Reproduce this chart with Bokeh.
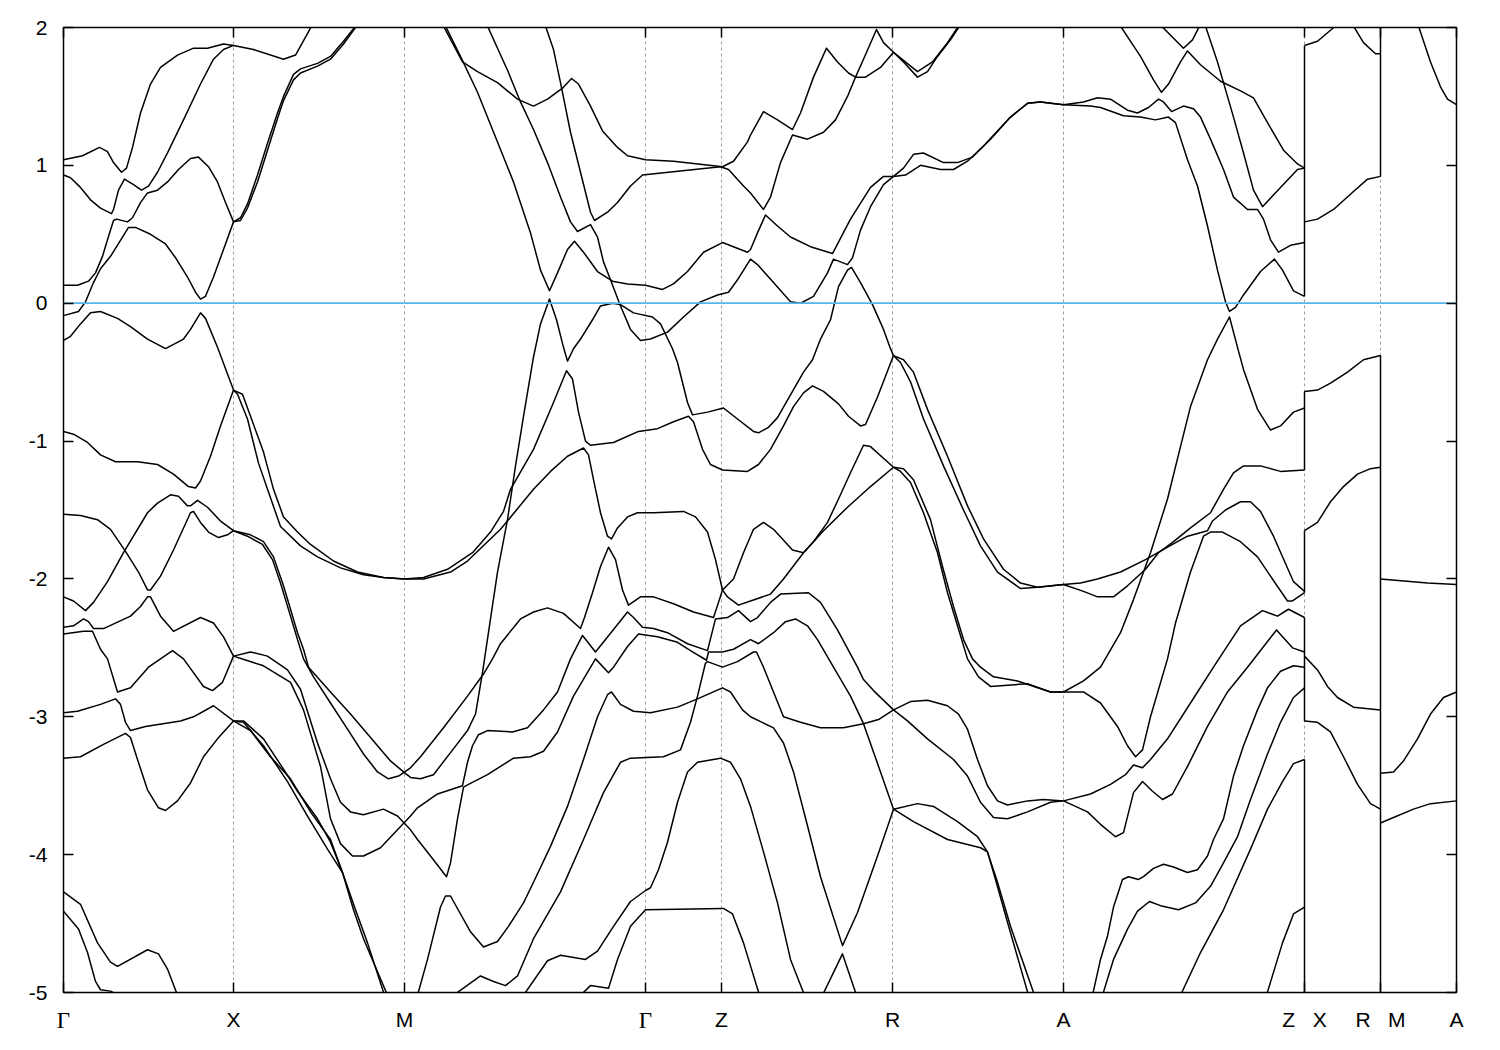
from bokeh.plotting import figure
from bokeh.models import FixedTicker, Range1d, LinearAxis
from bokeh.embed import file_html
from bokeh.resources import INLINE

# position along the k path of each high-symmetry tick
K_TICKS = [63, 233, 404, 645, 721, 892, 1063, 1304, 1380, 1456]
K_LABELS = ["Γ", "X", "M", "Γ", "Z", "R", "A", "Z\u00a0\u00a0\u00a0X", "R\u00a0\u00a0\u00a0M", "A"]
E_TICKS = [2, 1, 0, -1, -2, -3, -4, -5]
FERMI = 0.0

# bands: (k position, energy in eV)
B01 = [(63,1.04),(82,1.07),(99,1.13),(107,1.10),(113,1.02),(121,.95),(126,.98),(132,1.13),(140,1.38),(150,1.59),(160,1.71),(177,1.80),(193,1.85),(207,1.85),(223,1.88),(233,1.87),(253,1.84),(270,1.80),(283,1.77),(295,1.80),(302,1.89),(311,2.01)]
B02 = [(63,.93),(70,.91),(80,.84),(90,.75),(100,.69),(111,.65),(113,.68),(118,.82),(124,.90),(133,.86),(141,.82),(148,.85),(157,.95),(167,1.09),(183,1.33),(200,1.59),(213,1.77),(223,1.84),(233,1.87)]
B03 = [(63,.13),(77,.13),(88,.16),(95,.22),(102,.34),(107,.46),(113,.60),(116,.61),(127,.59),(132,.62),(140,.73),(147,.80),(157,.82),(167,.88),(178,.97),(190,1.05),(198,1.06),(208,.99),(217,.88),(225,.73),(233,.59)]
B04 = [(63,-.09),(78,-.06),(85,.01),(93,.15),(100,.25),(110,.34),(122,.48),(128,.55),(135,.55),(150,.50),(165,.43),(175,.33),(187,.19),(195,.08),(200,.03),(205,.05),(213,.19),(223,.39),(233,.59)]
B05 = [(233,.59),(240,.62),(247,.72),(257,.93),(267,1.16),(277,1.38),(283,1.50),(293,1.66),(300,1.70),(317,1.74),(330,1.79),(343,1.90),(355,2.01)]
B06 = [(233,.59),(240,.60),(247,.69),(257,.88),(267,1.11),(277,1.34),(283,1.47),(293,1.62),(300,1.67),(317,1.72),(330,1.77),(343,1.88),(356,2.01)]
B07 = [(63,-.27),(70,-.24),(80,-.15),(90,-.07),(100,-.06),(117,-.11),(130,-.17),(147,-.26),(165,-.33),(183,-.26),(190,-.19),(200,-.07),(205,-.11),(217,-.32),(233,-.63)]
B08 = [(233,-.63),(242,-.66),(250,-.82),(263,-1.08),(273,-1.35),(283,-1.55),(297,-1.66),(310,-1.75),(333,-1.87),(357,-1.95),(383,-1.99),(404,-2.00)]
B09 = [(233,-.63),(237,-.66),(247,-.84),(258,-1.16),(268,-1.37),(280,-1.62),(300,-1.76),(317,-1.84),(340,-1.92),(363,-1.97),(383,-1.99),(404,-2.00)]
B10 = [(63,-.93),(73,-.95),(87,-1.01),(100,-1.10),(115,-1.15),(137,-1.15),(157,-1.17),(173,-1.24),(188,-1.33),(195,-1.34),(200,-1.29),(210,-1.11),(220,-.89),(233,-.63)]
B11 = [(63,-1.53),(80,-1.54),(97,-1.57),(110,-1.64),(125,-1.80),(138,-1.95),(147,-2.08),(150,-2.08),(160,-1.98),(173,-1.79),(190,-1.52),(193,-1.51),(200,-1.59),(208,-1.66),(218,-1.70),(227,-1.68),(233,-1.65)]
B12 = [(63,-2.13),(73,-2.16),(85,-2.23),(93,-2.17),(107,-2.02),(123,-1.81),(147,-1.52),(157,-1.45),(170,-1.39),(178,-1.40),(187,-1.47),(190,-1.47),(197,-1.43),(207,-1.48),(220,-1.58),(233,-1.65)]
B13 = [(233,-1.65),(247,-1.69),(262,-1.75),(272,-1.86),(280,-2.03),(290,-2.27),(297,-2.44),(303,-2.58),(313,-2.71),(330,-2.90),(347,-3.09),(363,-3.27),(377,-3.40),(388,-3.45),(398,-3.43),(410,-3.37),(420,-3.29),(443,-3.08),(467,-2.85),(483,-2.69),(492,-2.58),(500,-2.47),(520,-2.29),(533,-2.24),(547,-2.21),(563,-2.25),(580,-2.36),(584,-2.28),(592,-2.10),(600,-1.91),(608,-1.77),(615,-1.86),(622,-2.08),(628,-2.19),(640,-2.13),(653,-2.13),(673,-2.18),(693,-2.24),(713,-2.28),(718,-2.17),(722,-2.08),(733,-2.00),(743,-1.81),(753,-1.64),(763,-1.59),(773,-1.64),(792,-1.79),(803,-1.81),(813,-1.73),(827,-1.59),(838,-1.42),(850,-1.23),(863,-1.03),(870,-1.04),(893,-1.19)]
B14 = [(233,-1.65),(250,-1.68),(263,-1.73),(273,-1.84),(283,-2.05),(297,-2.39),(303,-2.51),(308,-2.64),(330,-2.82),(350,-2.98),(370,-3.15),(390,-3.32),(403,-3.40),(410,-3.44),(420,-3.45),(433,-3.42),(450,-3.26),(467,-3.10),(475,-2.98),(482,-2.68),(490,-2.29),(497,-1.95),(507,-1.57),(515,-1.18),(523,-.82),(533,-.39),(540,-.15),(549,.03),(556,-.12),(563,-.32),(567,-.42),(573,-.33),(580,-.26),(592,-.12),(600,-.02),(612,.00),(620,-.01),(633,-.07),(652,-.10),(660,-.15),(672,-.33),(677,-.43),(687,-.72),(692,-.81),(707,-.79),(723,-.76),(737,-.84),(753,-.93),(758,-.94),(768,-.90),(777,-.83),(792,-.64),(803,-.50),(812,-.41),(820,-.26),(830,-.12),(838,.12),(847,.24),(851,.26),(860,.15),(872,-.01),(883,-.19),(890,-.33),(893,-.38)]
B15 = [(404,-2.00),(423,-1.99),(447,-1.93),(472,-1.81),(490,-1.66),(503,-1.51),(510,-1.35),(533,-1.06),(553,-.72),(566,-.49),(572,-.55),(578,-.79),(585,-1.00),(590,-1.03),(613,-1.01),(638,-.93),(657,-.91),(673,-.86),(688,-.82),(693,-.86),(702,-1.06),(710,-1.17),(722,-1.21),(747,-1.22),(758,-1.17),(770,-1.06),(783,-.89),(793,-.75),(803,-.65),(812,-.60),(823,-.64),(838,-.73),(848,-.82),(860,-.89),(865,-.88),(877,-.68),(893,-.38)]
B16 = [(404,-2.00),(423,-2.00),(450,-1.95),(467,-1.87),(500,-1.64),(508,-1.57),(533,-1.35),(550,-1.22),(567,-1.11),(583,-1.05),(588,-1.10),(593,-1.28),(600,-1.52),(607,-1.69),(611,-1.71),(617,-1.63),(627,-1.55),(637,-1.52),(653,-1.52),(683,-1.51),(695,-1.55),(707,-1.66),(715,-1.86),(722,-2.08),(727,-2.13),(738,-2.19),(750,-2.16),(770,-2.11),(783,-2.00),(803,-1.81),(823,-1.65),(847,-1.48),(870,-1.33),(893,-1.19)]
B17 = [(545,2.01),(553,1.84),(560,1.60),(570,1.24),(580,.95),(590,.66),(594,.60),(607,.66),(617,.73),(630,.85),(642,.93),(720,.99),(728,.97),(743,.85),(750,.80),(763,.68),(770,.77),(780,1.02),(792,1.22),(807,1.19),(823,1.24),(835,1.33),(847,1.50),(855,1.64),(865,1.64),(880,1.71),(893,1.82),(903,1.75),(917,1.64),(927,1.68),(937,1.79),(950,1.91),(959,2.01)]
B18 = [(487,2.01),(507,1.69),(520,1.46),(533,1.26),(547,1.02),(560,.77),(570,.59),(577,.52),(590,.57),(597,.48),(603,.30),(610,.17),(620,-.02),(630,-.19),(640,-.27),(650,-.26),(667,-.21),(683,-.10),(700,.01),(717,.06),(728,.08),(737,.17),(750,.32),(757,.28),(773,.15),(790,.01),(800,.00),(813,.05),(827,.22),(833,.32),(847,.28),(852,.33),(860,.53),(870,.70),(883,.86),(893,.92)]
B19 = [(445,2.01),(460,1.79),(477,1.53),(497,1.17),(513,.88),(530,.51),(540,.24),(549,.09),(557,.22),(567,.39),(574,.45),(583,.37),(597,.23),(612,.16),(627,.14),(645,.13),(662,.10),(673,.14),(687,.23),(703,.37),(722,.44),(747,.37),(750,.39),(757,.51),(765,.64),(777,.56),(790,.48),(810,.41),(832,.36),(850,.61),(870,.84),(883,.92),(893,.92)]
B20 = [(443,2.01),(462,1.75),(477,1.68),(497,1.60),(517,1.48),(533,1.43),(547,1.48),(562,1.56),(571,1.63),(578,1.59),(590,1.43),(602,1.25),(617,1.13),(627,1.07),(645,1.04),(673,1.03),(722,.99),(733,1.03),(747,1.17),(750,1.22),(763,1.39),(777,1.33),(792,1.26),(800,1.38),(813,1.64),(826,1.85),(837,1.75),(848,1.67),(855,1.64),(863,1.77),(876,1.985),(883,1.89),(893,1.82),(917,1.68),(932,1.75),(947,1.89),(958,2.01)]
B21 = [(893,.92),(903,.98),(913,1.08),(923,1.09),(943,1.02),(957,1.02),(972,1.06),(990,1.19),(1010,1.35),(1027,1.45),(1040,1.46),(1063,1.44),(1083,1.46),(1097,1.49),(1110,1.48),(1127,1.40),(1137,1.38),(1148,1.42),(1158,1.48),(1163,1.46),(1171,1.39),(1183,1.43),(1193,1.41),(1200,1.35),(1210,1.19),(1223,.97),(1233,.77),(1247,.68),(1257,.68),(1263,.61),(1270,.46),(1278,.37),(1290,.42),(1304,.44)]
B22 = [(893,.92),(905,.93),(920,1.00),(940,.97),(953,.97),(967,1.03),(983,1.14),(1010,1.35),(1027,1.45),(1040,1.46),(1063,1.44),(1090,1.43),(1100,1.42),(1123,1.36),(1140,1.35),(1155,1.33),(1168,1.35),(1175,1.31),(1187,1.04),(1197,.85),(1207,.56),(1217,.24),(1225,.01),(1229,-.06),(1235,-.03),(1243,.06),(1260,.23),(1274,.32),(1282,.24),(1293,.09),(1304,.05)]
B23 = [(1120,2.01),(1140,1.79),(1153,1.62),(1161,1.53),(1168,1.59),(1180,1.75),(1187,1.83),(1200,1.73),(1220,1.61),(1240,1.54),(1253,1.49),(1267,1.31),(1283,1.11),(1297,1.01),(1304,.98)]
B24 = [(1161,2.01),(1183,1.85),(1192,1.91),(1199,2.01)]
B25 = [(1205,2.01),(1217,1.75),(1223,1.60),(1233,1.35),(1243,1.09),(1253,.82),(1262,.70),(1280,.84),(1297,.97),(1304,.98)]
B26 = [(893,-.38),(903,-.41),(913,-.50),(927,-.77),(947,-1.11),(967,-1.47),(983,-1.71),(1003,-1.93),(1020,-2.03),(1037,-2.06),(1063,-2.04),(1080,-2.03),(1097,-2.00),(1120,-1.95),(1145,-1.86),(1167,-1.77),(1187,-1.69),(1207,-1.65),(1212,-1.58),(1225,-1.50),(1240,-1.44),(1250,-1.44),(1260,-1.51),(1273,-1.69),(1293,-2.02),(1304,-2.09)]
B27 = [(893,-.38),(900,-.43),(910,-.57),(923,-.84),(943,-1.18),(963,-1.50),(980,-1.76),(997,-1.95),(1020,-2.07),(1037,-2.06),(1063,-2.04),(1083,-2.09),(1097,-2.13),(1113,-2.13),(1127,-2.05),(1145,-1.93),(1158,-1.81),(1173,-1.73),(1190,-1.63),(1210,-1.52),(1223,-1.35),(1233,-1.23),(1243,-1.18),(1260,-1.18),(1280,-1.22),(1304,-1.21)]
B28 = [(1063,-2.82),(1083,-2.74),(1100,-2.64),(1120,-2.39),(1133,-2.15),(1145,-1.91),(1150,-1.81),(1167,-1.42),(1180,-1.04),(1190,-.75),(1207,-.41),(1217,-.26),(1229,-.10),(1237,-.32),(1243,-.48),(1257,-.77),(1270,-.92),(1280,-.89),(1293,-.79),(1304,-.76)]
B29 = [(1063,-2.82),(1083,-2.82),(1100,-2.90),(1117,-3.07),(1127,-3.21),(1135,-3.29),(1142,-3.24),(1150,-3.00),(1167,-2.58),(1175,-2.32),(1190,-1.95),(1203,-1.69),(1210,-1.66),(1222,-1.66),(1240,-1.73),(1257,-1.84),(1270,-1.98),(1287,-2.16),(1292,-2.16),(1304,-2.10)]
B30 = [(1063,-3.61),(1090,-3.56),(1110,-3.49),(1125,-3.42),(1133,-3.35),(1142,-3.37),(1150,-3.31),(1167,-3.16),(1190,-2.90),(1213,-2.64),(1240,-2.34),(1262,-2.23),(1277,-2.27),(1288,-2.22),(1304,-2.28)]
B31 = [(1063,-3.61),(1087,-3.69),(1100,-3.78),(1115,-3.87),(1123,-3.84),(1133,-3.55),(1142,-3.47),(1152,-3.54),(1162,-3.60),(1172,-3.56),(1187,-3.36),(1207,-3.07),(1227,-2.82),(1247,-2.64),(1276,-2.37),(1292,-2.50),(1304,-2.53)]
B32 = [(1092,-5.02),(1100,-4.76),(1107,-4.59),(1113,-4.38),(1122,-4.18),(1128,-4.16),(1138,-4.18),(1143,-4.16),(1153,-4.10),(1163,-4.07),(1173,-4.09),(1187,-4.13),(1197,-4.11),(1207,-4.01),(1213,-3.89),(1223,-3.74),(1233,-3.43),(1243,-3.21),(1257,-2.95),(1267,-2.79),(1280,-2.67),(1293,-2.63),(1304,-2.64)]
B33 = [(1102,-5.02),(1113,-4.76),(1127,-4.54),(1137,-4.41),(1149,-4.34),(1160,-4.37),(1178,-4.40),(1195,-4.35),(1210,-4.23),(1223,-4.06),(1237,-3.87),(1250,-3.60),(1267,-3.27),(1280,-3.04),(1293,-2.86),(1304,-2.79)]
B34 = [(1180,-5.02),(1200,-4.71),(1223,-4.40),(1250,-3.96),(1267,-3.67),(1282,-3.47),(1293,-3.34),(1304,-3.31)]
B35 = [(1266,-5.02),(1282,-4.64),(1293,-4.43),(1304,-4.38)]
B36 = [(893,-3.67),(917,-3.63),(933,-3.65),(957,-3.76),(977,-3.87),(987,-3.98),(997,-4.20),(1010,-4.52),(1034,-5.02)]
B37 = [(893,-3.67),(913,-3.76),(947,-3.89),(980,-3.95),(987,-3.98),(995,-4.18),(1007,-4.49),(1028,-5.02)]
B38 = [(233,-2.56),(263,-2.63),(290,-2.75),(303,-2.95),(320,-3.36),(330,-3.74),(340,-3.92),(352,-4.01),(363,-4.01),(380,-3.95),(397,-3.82),(410,-3.72),(417,-3.66),(437,-3.56),(462,-3.50),(467,-3.33),(472,-3.21),(478,-3.13),(487,-3.10),(512,-3.11),(527,-3.08),(543,-2.95),(557,-2.82),(570,-2.58),(582,-2.41),(595,-2.53),(627,-2.24),(633,-2.28),(642,-2.35),(653,-2.36),(667,-2.39),(687,-2.47),(707,-2.52),(715,-2.29),(727,-2.28),(738,-2.23),(750,-2.31),(757,-2.28),(770,-2.17),(780,-2.11),(808,-2.10),(820,-2.17),(837,-2.37),(857,-2.64),(863,-2.73),(873,-2.81),(893,-2.95),(907,-3.03),(927,-3.16),(953,-3.31),(967,-3.43),(980,-3.62),(993,-3.73),(1007,-3.74),(1027,-3.69),(1050,-3.62),(1063,-3.61)]
B39 = [(233,-2.56),(250,-2.53),(267,-2.56),(287,-2.66),(300,-2.80),(317,-3.19),(330,-3.45),(340,-3.62),(350,-3.69),(363,-3.71),(383,-3.67),(397,-3.72),(410,-3.82),(417,-3.89),(430,-4.01),(446,-4.16),(450,-4.06),(457,-3.74),(463,-3.51),(468,-3.49),(487,-3.42),(513,-3.30),(530,-3.29),(543,-3.25),(557,-3.11),(573,-2.85),(595,-2.58),(608,-2.68),(613,-2.64),(627,-2.49),(638,-2.40),(657,-2.42),(677,-2.46),(690,-2.52),(706,-2.59),(708,-2.53),(722,-2.53),(733,-2.51),(750,-2.44),(758,-2.47),(773,-2.39),(785,-2.31),(795,-2.29),(807,-2.34),(817,-2.44),(833,-2.64),(850,-2.85),(863,-3.05),(880,-3.40),(893,-3.67)]
B40 = [(453,-5.02),(480,-4.88),(493,-4.92),(505,-4.95),(517,-4.88),(533,-4.61),(560,-4.27),(583,-3.89),(603,-3.55),(620,-3.33),(630,-3.30),(663,-3.29),(680,-3.24),(690,-3.04),(697,-2.85),(705,-2.61),(707,-2.60),(722,-2.64),(737,-2.60),(753,-2.53),(756,-2.53),(763,-2.64),(773,-2.82),(783,-3.00),(800,-3.04),(820,-3.08),(843,-3.08),(863,-3.05),(878,-3.02),(893,-2.95),(910,-2.89),(927,-2.88),(947,-2.92),(958,-2.98),(967,-3.09),(977,-3.31),(987,-3.50),(997,-3.61),(1007,-3.64),(1027,-3.61),(1043,-3.60),(1063,-3.61)]
B41 = [(417,-5.02),(427,-4.76),(440,-4.38),(445,-4.30),(450,-4.30),(470,-4.56),(483,-4.67),(497,-4.63),(508,-4.52),(523,-4.35),(533,-4.20),(550,-3.94),(567,-3.65),(583,-3.31),(597,-3.00),(607,-2.84),(611,-2.82),(620,-2.91),(633,-2.96),(650,-2.97),(677,-2.93),(697,-2.87),(722,-2.79),(730,-2.82),(742,-2.95),(750,-3.00),(773,-3.08),(783,-3.19),(793,-3.40),(807,-3.79),(820,-4.16),(842,-4.66),(857,-4.42),(877,-4.01),(893,-3.67)]
B42 = [(523,-5.02),(547,-4.77),(560,-4.73),(585,-4.76),(597,-4.70),(613,-4.52),(630,-4.34),(645,-4.26),(650,-4.24),(658,-4.11),(667,-3.91),(677,-3.62),(687,-3.40),(697,-3.33),(720,-3.30),(730,-3.33),(740,-3.45),(750,-3.65),(763,-3.98),(777,-4.35),(790,-4.76),(804,-5.02)]
B43 = [(580,-5.02),(590,-4.95),(608,-4.97),(617,-4.76),(630,-4.52),(645,-4.40),(723,-4.39),(732,-4.43),(743,-4.64),(759,-5.02)]
B44 = [(822,-5.02),(842,-4.72),(856,-5.02)]
B45 = [(63,-2.35),(73,-2.34),(83,-2.29),(88,-2.31),(93,-2.36),(103,-2.36),(130,-2.27),(140,-2.20),(147,-2.13),(150,-2.13),(160,-2.27),(173,-2.38),(200,-2.28),(213,-2.32),(223,-2.42),(233,-2.56)]
B46 = [(63,-2.40),(83,-2.38),(92,-2.38),(100,-2.51),(107,-2.58),(117,-2.82),(130,-2.79),(148,-2.64),(172,-2.52),(183,-2.58),(203,-2.78),(212,-2.81),(222,-2.75),(233,-2.56)]
B47 = [(63,-2.97),(77,-2.96),(100,-2.91),(115,-2.87),(120,-2.91),(125,-3.04),(130,-3.10),(145,-3.07),(180,-3.03),(193,-3.00),(213,-2.92),(233,-3.03)]
B48 = [(63,-3.30),(80,-3.29),(103,-3.20),(125,-3.12),(130,-3.15),(137,-3.31),(147,-3.53),(158,-3.66),(165,-3.68),(177,-3.61),(190,-3.48),(203,-3.29),(217,-3.16),(233,-3.03)]
B49 = [(233,-3.03),(243,-3.03),(263,-3.16),(283,-3.38),(297,-3.54),(317,-3.74),(330,-3.91),(342,-4.13),(355,-4.40),(367,-4.64),(384,-5.02)]
B50 = [(233,-3.03),(243,-3.04),(263,-3.21),(287,-3.47),(307,-3.72),(327,-3.96),(342,-4.13),(353,-4.40),(363,-4.61),(377,-4.85),(387,-5.02)]
B51 = [(233,-3.03),(250,-3.10),(270,-3.29),(290,-3.45),(310,-3.69),(330,-3.89),(342,-4.13)]
B52 = [(63,-4.27),(80,-4.36),(97,-4.64),(110,-4.78),(117,-4.81),(147,-4.69),(158,-4.72),(167,-4.83),(177,-5.02)]
B53 = [(63,-4.41),(78,-4.54),(87,-4.71),(95,-4.92),(100,-4.98),(110,-4.99),(118,-5.02)]
B54 = [(1304,1.87),(1317,1.90),(1330,1.98),(1335,2.01)]
B55 = [(1353,2.01),(1363,1.89),(1375,1.81),(1380,1.81)]
B56 = [(1304,.59),(1317,.61),(1333,.68),(1353,.81),(1367,.90),(1380,.92)]
B57 = [(1304,-.64),(1317,-.63),(1330,-.58),(1347,-.50),(1363,-.41),(1380,-.38)]
B58 = [(1304,-1.65),(1317,-1.59),(1330,-1.44),(1343,-1.33),(1357,-1.24),(1370,-1.20),(1380,-1.19)]
B59 = [(1304,-2.56),(1317,-2.66),(1327,-2.78),(1337,-2.86),(1353,-2.93),(1380,-2.95)]
B60 = [(1304,-3.03),(1317,-3.04),(1330,-3.11),(1343,-3.29),(1357,-3.49),(1370,-3.63),(1380,-3.67)]
B61 = [(1380,-2.00),(1427,-2.03),(1456,-2.04)]
B62 = [(1380,-3.41),(1393,-3.40),(1403,-3.32),(1417,-3.16),(1430,-2.98),(1443,-2.86),(1456,-2.82)]
B63 = [(1380,-3.77),(1390,-3.74),(1413,-3.67),(1430,-3.63),(1456,-3.61)]
B64 = [(1418,2.01),(1430,1.75),(1440,1.57),(1447,1.48),(1456,1.44)]
# band discontinuities at the two path breaks
B65 = [(1304,1.87),(1304,.05)]
B66 = [(1304,-.64),(1304,-1.21)]
B67 = [(1304,-1.65),(1304,-2.10)]
B68 = [(1304,-2.28),(1304,-3.03)]
B69 = [(1304,-3.31),(1304,-5.02)]
B70 = [(1380,2.01),(1380,.92)]
B71 = [(1380,-.38),(1380,-5.02)]
B72 = [(893,-1.19),(903,-1.20),(913,-1.28),(930,-1.57),(942,-1.91),(953,-2.20),(963,-2.44),(972,-2.58),(980,-2.64),(993,-2.71),(1017,-2.74),(1050,-2.82),(1063,-2.82)]
B73 = [(893,-1.19),(900,-1.22),(910,-1.30),(923,-1.52),(937,-1.81),(947,-2.10),(957,-2.34),(967,-2.58),(978,-2.71),(990,-2.78),(1027,-2.76),(1050,-2.82),(1063,-2.82)]

ALL_BANDS = [B01,B02,B03,B04,B05,B06,B07,B08,B09,B10,B11,B12,B13,B14,B15,B16,B17,B18,B19,B20,
             B21,B22,B23,B24,B25,B26,B27,B28,B29,B30,B31,B32,B33,B34,B35,B36,B37,B38,B39,B40,
             B41,B42,B43,B44,B45,B46,B47,B48,B49,B50,B51,B52,B53,B54,B55,B56,B57,B58,B59,B60,
             B61,B62,B63,B64,B65,B66,B67,B68,B69,B70,B71,B72,B73]

FONT = "Liberation Sans"
SIZE = "21px"

p = figure(width=1484, height=1034, frame_width=1393, frame_height=965,
           x_range=Range1d(K_TICKS[0], K_TICKS[-1]), y_range=Range1d(E_TICKS[-1], E_TICKS[0]),
           output_backend="svg", toolbar_location=None,
           min_border_left=63, min_border_right=28, min_border_top=27, min_border_bottom=42)
p.background_fill_color = "white"
p.outline_line_color = "black"
p.outline_line_width = 1.5
p.ygrid.visible = False
p.xgrid.ticker = FixedTicker(ticks=K_TICKS)
p.xgrid.grid_line_color = "#a0a0a0"
p.xgrid.grid_line_dash = "3 3"
p.xgrid.grid_line_width = 1

def style(ax, ticks, labels=None):
    ax.ticker = FixedTicker(ticks=ticks)
    ax.major_tick_in = 10
    ax.major_tick_out = 0
    ax.minor_tick_in = 0
    ax.minor_tick_out = 0
    ax.major_tick_line_color = "black"
    ax.major_tick_line_width = 1.5
    ax.axis_line_color = None
    if labels is not None:
        ax.major_label_text_font = FONT
        ax.major_label_text_font_size = SIZE
        ax.major_label_text_color = "black"
        ax.major_label_standoff = 16
        ax.major_label_overrides = dict(zip(ticks, labels))
    else:
        ax.major_label_standoff = 0
        ax.major_label_text_font_size = "0px"
        ax.major_label_overrides = {t: "" for t in ticks}

style(p.xaxis[0], K_TICKS, [s if s != "Γ" else "" for s in K_LABELS])
p.xaxis[0].major_label_standoff = 15
style(p.yaxis[0], E_TICKS, [str(e) for e in E_TICKS])
top = LinearAxis(); style(top, K_TICKS); p.add_layout(top, "above")
right = LinearAxis(); style(right, E_TICKS); p.add_layout(right, "right")

# second bottom axis carries only the serif Γ labels, pulled back to the first axis' row
gamma = LinearAxis()
style(gamma, K_TICKS, [s if s == "Γ" else "" for s in K_LABELS])
gamma.major_label_text_font = "Liberation Serif"
gamma.major_label_text_font_size = "23px"
gamma.major_tick_in = 0
gamma.major_tick_line_color = None
gamma.major_label_standoff = -26
p.add_layout(gamma, "below")

for band in ALL_BANDS:
    p.line([b[0] for b in band], [b[1] for b in band], line_color="black", line_width=1.5, line_join="round")

p.line([K_TICKS[0], K_TICKS[-1]], [FERMI, FERMI], line_color="#56B4E9", line_width=1.8)

open("out.html", "w").write(file_html(p, INLINE))
